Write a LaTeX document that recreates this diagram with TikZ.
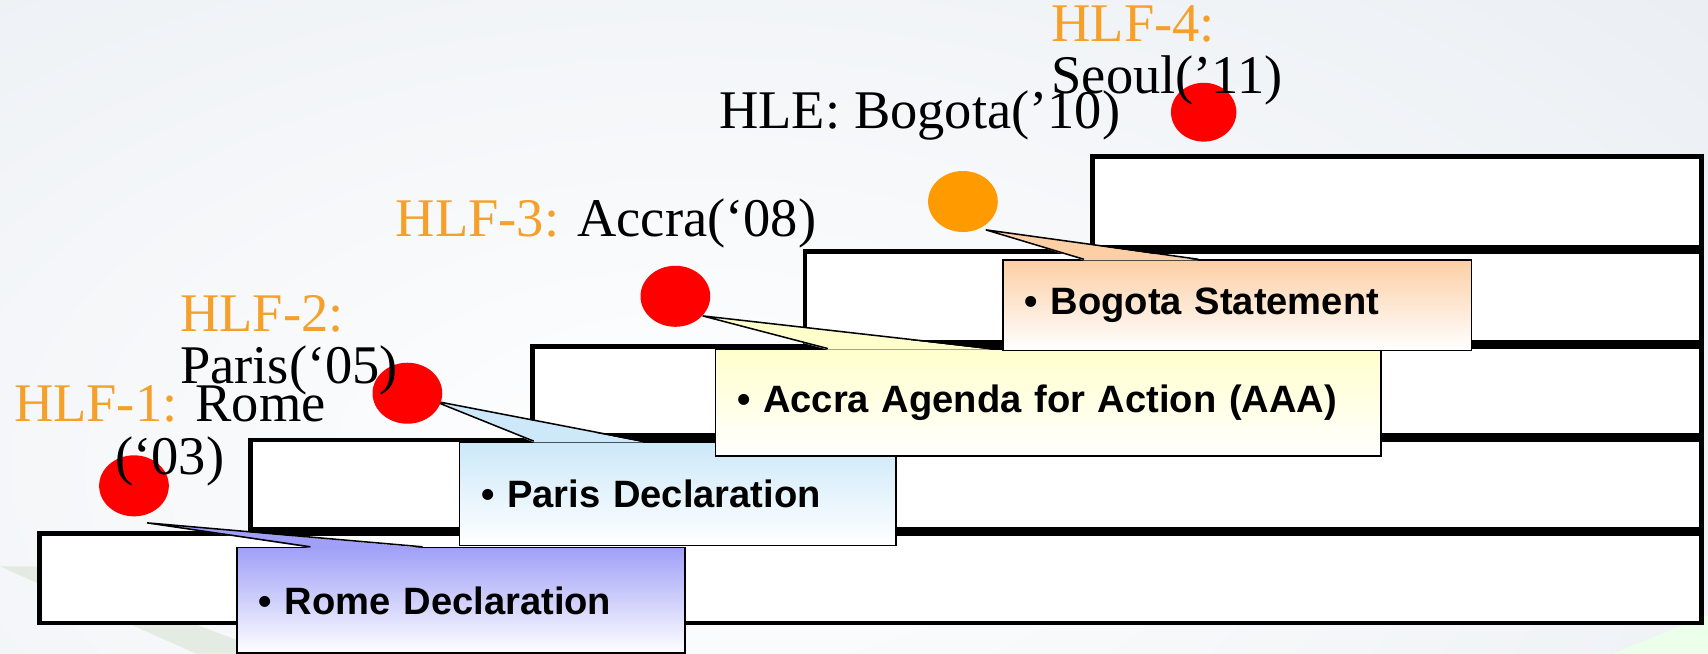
\documentclass[tikz,border=0pt]{standalone}
\usepackage{fontspec}
\setmainfont{Liberation Serif}
\newfontfamily\boldsans{Liberation Sans}
\usepackage{tikz}
\usetikzlibrary{shapes.geometric, calc}

\definecolor{hlforange}{HTML}{F5A02A}
\definecolor{spotorange}{HTML}{FF9A00}
\definecolor{romeblue}{HTML}{A0A0F8}
\definecolor{parisblue}{HTML}{CCE8F9}
\definecolor{accrayellow}{HTML}{FFFFCC}
\definecolor{bogotapeach}{HTML}{FCCFA5}
\definecolor{bgblue}{HTML}{DCE3EB}
\definecolor{bggreen}{HTML}{DFE8DD}

\begin{document}
\begin{tikzpicture}[x=0.5pt, y=-0.5pt,
        stepbox/.style={draw, line width=2.2pt, fill=white},
        callout/.style={draw, line width=0.7pt, rectangle, anchor=north west, bottom color=white,
            inner xsep=10pt, align=left, font=\boldsans\bfseries\fontsize{17.5}{20}\selectfont},
        spot/.style={ellipse, minimum width=32pt, minimum height=28pt, inner sep=0pt},
        hlftext/.style={font=\fontsize{25}{24}\selectfont, inner sep=0pt}]
        \useasboundingbox (0,0) rectangle (1568,600);
        % background
        \begin{scope}
            \clip (0,0) rectangle (1568,600);
            \fill[bgblue] (0,0) rectangle (1568,600);
            \shade[inner color=white, outer color=bgblue] (640,430) ellipse (2100 and 1150);
            \fill[bggreen, opacity=0.8] (0,520) -- (40,520) -- (250,600) -- (180,600) -- cycle;
            \fill[green!8] (1480,600) -- (1568,565) -- (1568,600) -- cycle;
        \end{scope}
        % steps
        \draw[stepbox] (36,490) rectangle (1562,572);
        \draw[stepbox] (230,404) rectangle (1562,486);
        \draw[stepbox] (489,318) rectangle (1562,400);
        \draw[stepbox] (739,231) rectangle (1562,314);
        \draw[stepbox] (1003,144) rectangle (1562,227);
        % callouts
        \node[callout, top color=romeblue, text width=185.5pt, minimum height=48.5pt] (R) at (217,502) {• Rome Declaration};
        \node[callout, top color=parisblue, text width=180.5pt, minimum height=47.5pt] (P) at (421,405) {• Paris Declaration};
        \node[callout, top color=accrayellow, text width=285.5pt, minimum height=49pt] (A) at (656,320) {• Accra Agenda for Action (AAA)};
        \node[callout, top color=bogotapeach, text width=195pt, minimum height=41.5pt] (B) at (920,238) {• Bogota Statement};
        % pointers
        \coordinate (tR) at (135,480);
        \coordinate (tP) at (398,368);
        \coordinate (tA) at (645,290);
        \coordinate (tB) at (905,211);
        \fill[romeblue] (tR) -- ($(R.north west)+(68,1)$) -- ($(R.north west)+(171,1)$) -- cycle;
        \draw[line width=0.7pt] ($(R.north west)+(68,0)$) -- (tR) -- ($(R.north west)+(171,0)$);
        \fill[parisblue] (tP) -- ($(P.north west)+(69,1)$) -- ($(P.north west)+(169,1)$) -- cycle;
        \draw[line width=0.7pt] ($(P.north west)+(69,0)$) -- (tP) -- ($(P.north west)+(169,0)$);
        \fill[accrayellow] (tA) -- ($(A.north west)+(104,1)$) -- ($(A.north west)+(254,1)$) -- cycle;
        \draw[line width=0.7pt] ($(A.north west)+(104,0)$) -- (tA) -- ($(A.north west)+(254,0)$);
        \fill[bogotapeach] (tB) -- ($(B.north west)+(75,1)$) -- ($(B.north west)+(180,1)$) -- cycle;
        \draw[line width=0.7pt] ($(B.north west)+(75,0)$) -- (tB) -- ($(B.north west)+(180,0)$);
        % forums
        \node[spot, fill=red] (dR) at (123,446) {};
        \node[spot, fill=red] (dP) at (374,361) {};
        \node[spot, fill=red] (dA) at (620,272) {};
        \node[spot, fill=spotorange] (dB) at (884,185) {};
        \node[spot, fill=red, minimum width=30pt, minimum height=27pt] (dS) at (1105,103) {};
        % labels
        \node[hlftext, align=center] (lR) at (156,400) {\textcolor{hlforange}{HLF-1:} Rome\\(‘03)};
        \node[hlftext, align=left, anchor=west] (lP) at (165,317) {\textcolor{hlforange}{HLF-2:}\\Paris(‘05)};
        \node[hlftext, anchor=west] (lA) at (363,205) {\textcolor{hlforange}{HLF-3:} Accra(‘08)};
        \node[hlftext, anchor=west] (lB) at (660,106) {HLE: Bogota(’10)};
        \node[hlftext, align=left, anchor=west] (lS) at (965,51) {\textcolor{hlforange}{HLF-4:}\\Seoul(’11)};
\end{tikzpicture}
\end{document}
